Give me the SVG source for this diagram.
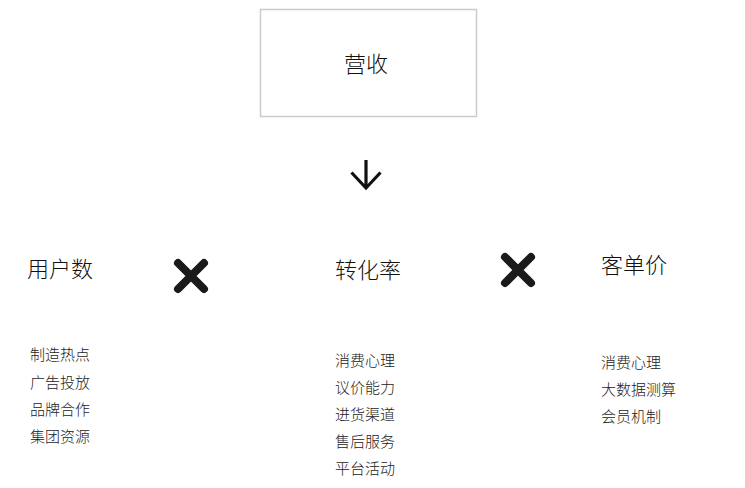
<svg xmlns="http://www.w3.org/2000/svg" width="745" height="488" viewBox="0 0 745 488">
<style>
text{font-family:"Noto Sans CJK SC","Liberation Sans",sans-serif;fill:#111;font-weight:300}
.t{font-size:22px}
.i{font-size:15px;fill:#222}
.x{stroke:#1a1a1a;stroke-width:8;stroke-linecap:round;fill:none}
</style>
<rect width="745" height="488" fill="#fff"/>
<g id="revenue">
<rect x="260.5" y="9.5" width="216" height="107" fill="#fff" stroke="#cccccc" stroke-width="1.5"/>
<text x="366" y="72" class="t" text-anchor="middle">营收</text>
</g>
<g id="connectors">
<path d="M366 160V188M351.5 172.5L366 188L380.5 172.5" stroke="#111" stroke-width="3.2" fill="none"/>
<path class="x" d="M178 263L204 289M204 263L178 289"/>
<path class="x" d="M505 257L531 283M531 257L505 283"/>
</g>
<g id="users">
<text x="27" y="277" class="t">用户数</text>
<text class="i" x="30" y="360">制造热点</text>
<text class="i" x="30" y="388">广告投放</text>
<text class="i" x="30" y="415">品牌合作</text>
<text class="i" x="30" y="442">集团资源</text>
</g>
<g id="conversion">
<text x="335" y="278" class="t">转化率</text>
<text class="i" x="335" y="366">消费心理</text>
<text class="i" x="335" y="393">议价能力</text>
<text class="i" x="335" y="420">进货渠道</text>
<text class="i" x="335" y="447">售后服务</text>
<text class="i" x="335" y="474">平台活动</text>
</g>
<g id="price">
<text x="601" y="273" class="t">客单价</text>
<text class="i" x="601" y="368">消费心理</text>
<text class="i" x="601" y="395">大数据测算</text>
<text class="i" x="601" y="422">会员机制</text>
</g>
</svg>
